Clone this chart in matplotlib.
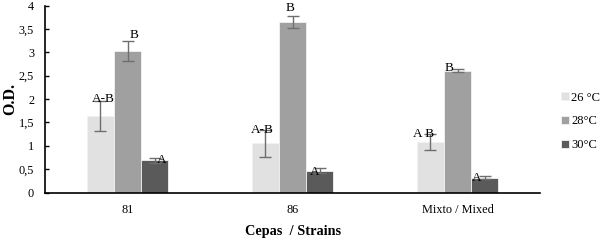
import matplotlib
matplotlib.use("Agg")
import matplotlib.pyplot as plt
import numpy as np

plt.rcParams['font.family'] = ['Liberation Serif', 'DejaVu Serif']

strains = ['81', '86', 'Mixto / Mixed']
temps = ['26 °C', '28°C', '30°C']

od_26 = [1.64, 1.05, 1.08]
od_28 = [3.03, 3.65, 2.61]
od_30 = [0.69, 0.47, 0.32]

err_26 = [0.32, 0.28, 0.17]
err_28 = [0.21, 0.13, 0.03]
err_30 = [0.05, 0.05, 0.03]

letters_26 = ['A-B', 'A-B', 'A B']
letters_28 = ['B', 'B', 'B']
letters_30 = ['A', 'A', 'A']

colors = ['#e1e1e1', '#a0a0a0', '#5a5a5a']

fig = plt.figure(figsize=(6.02, 2.41), dpi=100)
ax = fig.add_axes([0.075, 0.201, 0.822, 0.776])

x = np.arange(len(strains))
w = 0.165
values = [od_26, od_28, od_30]
errs = [err_26, err_28, err_30]
letters = [letters_26, letters_28, letters_30]

# letter offsets (x in bar widths, y in data units) per series / group
dx = [[0.1, -0.12, -0.25], [0.25, -0.1, -0.3], [0.25, -0.2, -0.3]]
dy = [[0.05, 0.0, 0.0], [0.12, 0.17, 0.03], [0.0, -0.02, 0.0]]

for i in range(3):
    pos = x + (i - 1) * w
    ax.bar(pos, values[i], w, color=colors[i], label=temps[i],
           edgecolor='#f2f2f2', linewidth=0.6, zorder=2)
    ax.errorbar(pos, values[i], yerr=errs[i], fmt='none', ecolor='#6e6e6e',
                elinewidth=1.0, capsize=4, capthick=1.0, zorder=3)
    for j in range(3):
        top = values[i][j] + (errs[i][j] if i < 2 else 0)
        ax.text(pos[j] + dx[i][j] * w, top + dy[i][j], letters[i][j],
                ha='center', va='center', fontsize=9.5, color='black', zorder=4)

ax.set_xlim(-0.5, 2.5)
ax.set_ylim(0, 4)
ax.set_xticks(x)
ax.set_xticklabels(strains, fontsize=8.8)
ax.set_yticks(np.arange(0, 4.01, 0.5))
ax.set_yticklabels(['0', '0,5', '1', '1,5', '2', '2,5', '3', '3,5', '4'], fontsize=8.8)
ax.tick_params(axis='y', direction='in', length=3, width=1, pad=8)
ax.tick_params(axis='x', length=0, pad=8)
for s in ['top', 'right']:
    ax.spines[s].set_visible(False)
ax.spines['left'].set_linewidth(1.2)
ax.spines['bottom'].set_linewidth(1.2)

ax.set_ylabel('O.D.', fontsize=11.5, fontweight='bold')
ax.yaxis.set_label_coords(-0.055, 0.5)
ax.set_xlabel('Cepas  / Strains', fontsize=10.3, fontweight='bold', labelpad=7)

ax.legend(loc='center left', bbox_to_anchor=(1.02, 0.38), frameon=False,
          fontsize=9, handlelength=0.6, handleheight=0.6, handletextpad=0.2,
          labelspacing=0.95)

fig.savefig('out.png', dpi=100)
